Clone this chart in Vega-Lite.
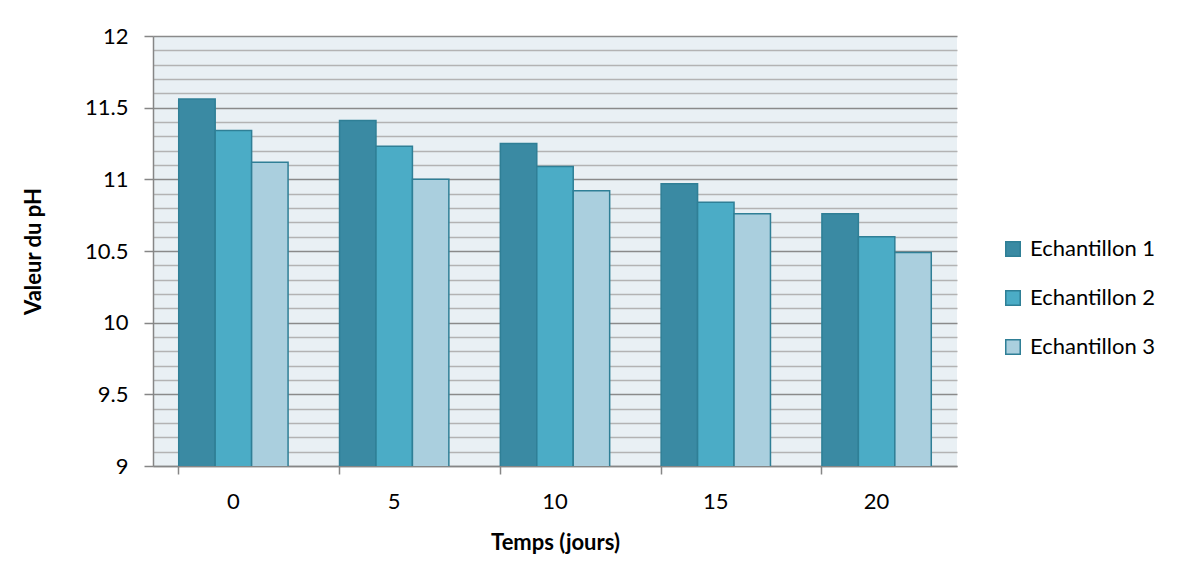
{
  "$schema": "https://vega.github.io/schema/vega-lite/v6.json",
  "width": 804,
  "height": 430,
  "autosize": {"type": "none"},
  "padding": {"left": 153, "top": 36, "right": 235, "bottom": 120},
  "background": "white",
  "config": {
    "font": "Lato",
    "view": {"fill": "#e9f0f4", "stroke": null},
    "axis": {
      "labelFont": "Lato",
      "labelFontSize": 22,
      "labelColor": "#000000",
      "titleFont": "Lato",
      "titleFontSize": 22,
      "titleFontWeight": "bold",
      "titleColor": "#000000",
      "domainColor": "#868686",
      "domainWidth": 1.5,
      "tickColor": "#868686",
      "tickWidth": 1.5
    },
    "legend": {
      "labelFont": "Lato",
      "labelFontSize": 22,
      "labelColor": "#000000"
    }
  },
  "data": {
    "values": [
      {"Temps": 0, "Serie": "Echantillon 1", "pH": 11.56},
      {"Temps": 0, "Serie": "Echantillon 2", "pH": 11.34},
      {"Temps": 0, "Serie": "Echantillon 3", "pH": 11.12},
      {"Temps": 5, "Serie": "Echantillon 1", "pH": 11.41},
      {"Temps": 5, "Serie": "Echantillon 2", "pH": 11.23},
      {"Temps": 5, "Serie": "Echantillon 3", "pH": 11.0},
      {"Temps": 10, "Serie": "Echantillon 1", "pH": 11.25},
      {"Temps": 10, "Serie": "Echantillon 2", "pH": 11.09},
      {"Temps": 10, "Serie": "Echantillon 3", "pH": 10.92},
      {"Temps": 15, "Serie": "Echantillon 1", "pH": 10.97},
      {"Temps": 15, "Serie": "Echantillon 2", "pH": 10.84},
      {"Temps": 15, "Serie": "Echantillon 3", "pH": 10.76},
      {"Temps": 20, "Serie": "Echantillon 1", "pH": 10.76},
      {"Temps": 20, "Serie": "Echantillon 2", "pH": 10.6},
      {"Temps": 20, "Serie": "Echantillon 3", "pH": 10.49}
    ]
  },
  "mark": {"type": "bar", "stroke": "#2f7f96", "strokeWidth": 1.5, "clip": true},
  "encoding": {
    "x": {
      "field": "Temps",
      "type": "ordinal",
      "sort": "ascending",
      "scale": {"paddingInner": 0.32, "paddingOuter": 0.16},
      "axis": {
        "title": "Temps (jours)",
        "labelAngle": 0,
        "bandPosition": 0,
        "tickSize": 8,
        "labelPadding": 17,
        "titlePadding": 20,
        "grid": false
      }
    },
    "xOffset": {
      "field": "Serie",
      "type": "nominal",
      "scale": {"paddingInner": 0, "paddingOuter": 0}
    },
    "y": {
      "field": "pH",
      "type": "quantitative",
      "scale": {"domain": [9, 12], "zero": false, "nice": false},
      "axis": {
        "title": "Valeur du pH",
        "values": [9, 9.1, 9.2, 9.3, 9.4, 9.5, 9.6, 9.7, 9.8, 9.9, 10, 10.1, 10.2, 10.3, 10.4, 10.5, 10.6, 10.7, 10.8, 10.9, 11, 11.1, 11.2, 11.3, 11.4, 11.5, 11.6, 11.7, 11.8, 11.9, 12],
        "labelOverlap": false,
        "labelExpr": "abs(datum.value * 2 - round(datum.value * 2)) < 0.001 ? format(datum.value, '~g') : ''",
        "grid": true,
        "gridColor": {"condition": {"test": "abs(datum.value * 2 - round(datum.value * 2)) < 0.001", "value": "#8a8a8a"}, "value": "#b3b3b3"},
        "gridWidth": 1.5,
        "tickSize": 9,
        "tickOpacity": {"condition": {"test": "abs(datum.value * 2 - round(datum.value * 2)) < 0.001", "value": 1}, "value": 0},
        "labelPadding": 16,
        "titlePadding": 39
      }
    },
    "color": {
      "field": "Serie",
      "type": "nominal",
      "scale": {
        "domain": ["Echantillon 1", "Echantillon 2", "Echantillon 3"],
        "range": ["#3a8aa3", "#4bacc6", "#aacfde"]
      },
      "legend": {
        "title": null,
        "orient": "none",
        "legendX": 849,
        "legendY": 202,
        "symbolType": "square",
        "symbolSize": 210,
        "symbolStrokeColor": "#2f7f96",
        "symbolStrokeWidth": 1.5,
        "symbolOpacity": 1,
        "rowPadding": 27,
        "labelOffset": 6
      }
    }
  }
}
